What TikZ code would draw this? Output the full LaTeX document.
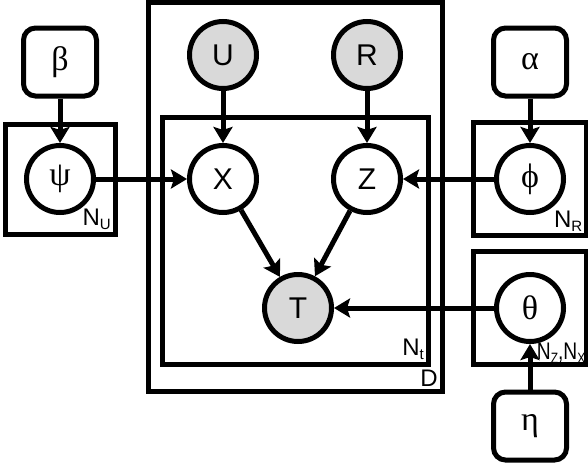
\documentclass[tikz,border=0pt]{standalone}
\usepackage{fontspec}
\setmainfont{Liberation Sans}
\newfontfamily\greekfont{Liberation Serif}
\usetikzlibrary{positioning, fit, arrows.meta}
\newcommand{\platesub}[1]{\raisebox{-4pt}{\fontsize{15}{15}\selectfont #1}}

\begin{document}
\begin{tikzpicture}[on grid,
  latent/.style={circle, draw, line width=5pt, minimum size=67pt, inner sep=0pt, font=\fontsize{30}{31}\selectfont},
  observed/.style={latent, fill=gray!30},
  param/.style={latent, font=\fontsize{34}{35}\greekfont},
  hyper/.style={rectangle, draw, line width=5pt, rounded corners=12pt, minimum width=73pt, minimum height=68pt, font=\fontsize{34}{35}\greekfont},
  plate/.style={rectangle, draw, line width=5pt, outer sep=0pt},
  platelabel/.style={anchor=south east, inner sep=4pt, font=\fontsize{24}{26}\selectfont},
  arr/.style={-{Stealth[length=16pt, width=19pt, inset=3pt]}, line width=5pt}]
\useasboundingbox (0,0) rectangle (588pt,-466pt);

\node[observed] (U) at (223pt,-55pt) {U};
\node[observed, right=144pt of U] (R) {R};
\node[latent, below=124pt of U] (X) {X};
\node[latent, below=124pt of R] (Z) {Z};
\node[observed, below right=129pt and 75pt of X] (T) {T};
\node[param, left=163pt of X] (psi) {ψ};
\node[hyper, above=117pt of psi] (beta) {β};
\node[param, right=163pt of Z] (phi) {ϕ};
\node[hyper, above=117pt of phi] (alpha) {α};
\node[param, below=129pt of phi] (theta) {θ};
\node[hyper, below=118pt of theta] (eta) {η};

\node[plate, fit=(psi), inner sep=19pt] (NU) {};
\node[plate, fit=(phi), inner sep=20.5pt] (NR) {};
\node[plate, fit=(theta), inner sep=20.5pt] (NZX) {};
\node[plate, fit=(X) (Z) (T), inner xsep=25pt, inner ysep=23pt, yshift=3pt] (Nt) {};
\node[plate, fit=(U) (R) (Nt), inner xsep=14pt, inner ysep=22pt, yshift=-5pt] (D) {};

\node[platelabel] at (NU.south east) {N\platesub{U}};
\node[platelabel] at (NR.south east) {N\platesub{R}};
\node[platelabel, inner sep=1pt] at (NZX.south east) {\scalebox{0.8}[1]{N\platesub{Z},N\platesub{X}}};
\node[platelabel] at (Nt.south east) {N\platesub{t}};
\node[platelabel] at (D.south east) {D};

\draw[arr] (beta) -- (psi);
\draw[arr] (psi) -- (X);
\draw[arr] (U) -- (X);
\draw[arr] (R) -- (Z);
\draw[arr] (alpha) -- (phi);
\draw[arr] (phi) -- (Z);
\draw[arr] (X) -- (T);
\draw[arr] (Z) -- (T);
\draw[arr] (theta) -- (T);
\draw[arr] (eta) -- (theta);
\end{tikzpicture}
\end{document}
